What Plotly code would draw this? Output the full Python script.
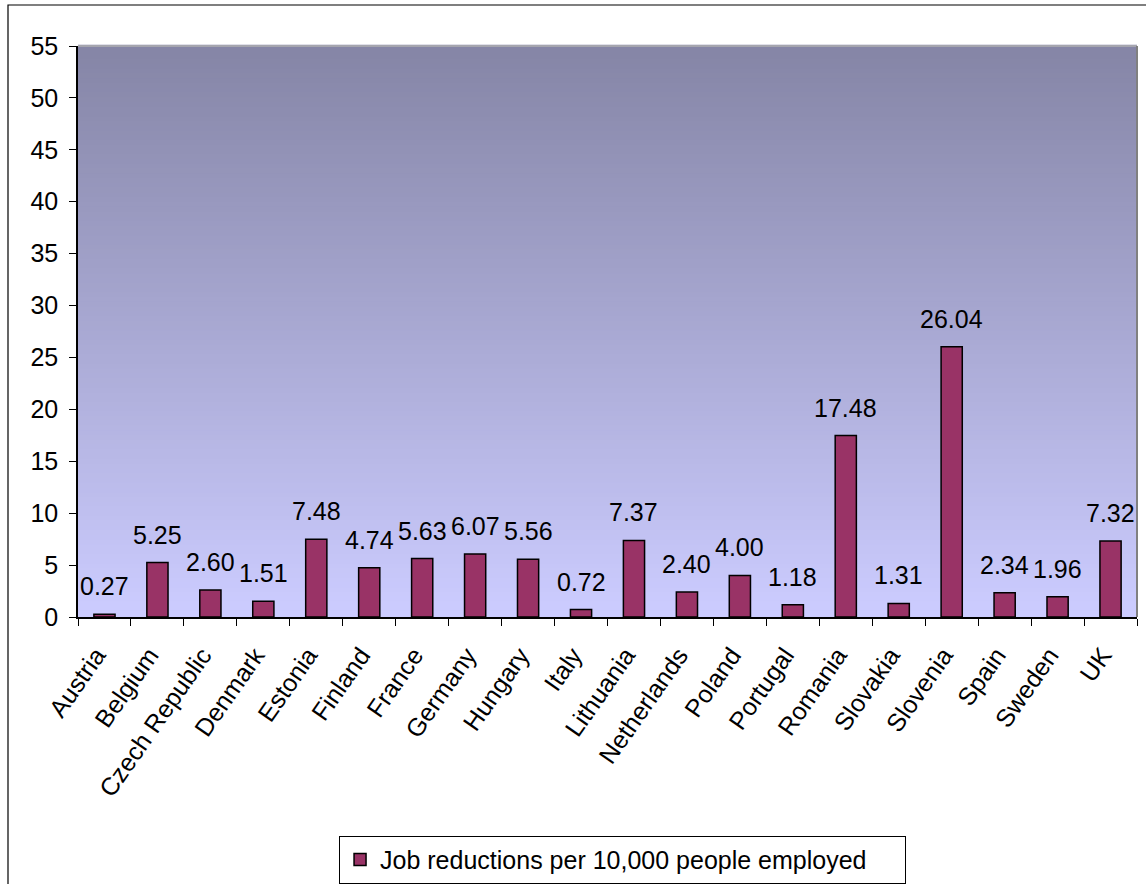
import plotly.graph_objects as go

countries = ["Austria", "Belgium", "Czech Republic", "Denmark", "Estonia", "Finland",
             "France", "Germany", "Hungary", "Italy", "Lithuania", "Netherlands",
             "Poland", "Portugal", "Romania", "Slovakia", "Slovenia", "Spain",
             "Sweden", "UK"]
values = [0.27, 5.25, 2.60, 1.51, 7.48, 4.74, 5.63, 6.07, 5.56, 0.72, 7.37, 2.40,
          4.00, 1.18, 17.48, 1.31, 26.04, 2.34, 1.96, 7.32]
series_name = "Job reductions per 10,000 people employed"
y_ticks = [0, 5, 10, 15, 20, 25, 30, 35, 40, 45, 50, 55]

FONT = "Liberation Sans, Arial, sans-serif"
FS = 25

fig = go.Figure()
fig.add_trace(go.Bar(
    x=countries, y=values, name=series_name,
    marker=dict(color="#993366", line=dict(color="#000000", width=1.5)),
    showlegend=True,
))

# gradient background in plot area
top = (133, 133, 166)
bot = (204, 204, 255)
n = 120
shapes = []
for i in range(n):
    t = i / (n - 1)
    c = tuple(int(round(top[k] + (bot[k] - top[k]) * t)) for k in range(3))
    y1 = 1 - i / n
    y0 = 1 - (i + 1) / n
    shapes.append(dict(type="rect", xref="x domain", yref="y domain",
                       x0=0, x1=1, y0=y0, y1=y1 + 0.002, layer="below",
                       line=dict(width=0), fillcolor="rgb(%d,%d,%d)" % c))
# plot area border accents
shapes.append(dict(type="line", xref="x domain", yref="y domain", x0=0, x1=1, y0=1, y1=1,
                   line=dict(color="#b0b0b0", width=1.5), layer="above"))
shapes.append(dict(type="line", xref="x domain", yref="y domain", x0=1, x1=1, y0=0, y1=1,
                   line=dict(color="#808080", width=2), layer="above"))
# outer chart border
shapes.append(dict(type="rect", xref="paper", yref="paper", x0=-0.0661, x1=1.02,
                   y0=-0.6, y1=1.0718, line=dict(color="#000000", width=1.2),
                   fillcolor="rgba(0,0,0,0)", layer="above"))

annotations = []
for c, v in zip(countries, values):
    annotations.append(dict(x=c, y=v, text="%.2f" % v, showarrow=False,
                            yanchor="bottom", yshift=12,
                            font=dict(family=FONT, size=FS, color="#000000")))

fig.update_layout(
    width=1146, height=884,
    margin=dict(l=78, r=9, t=46, b=267, autoexpand=False),
    paper_bgcolor="#ffffff",
    plot_bgcolor="#ccccff",
    font=dict(family=FONT, size=FS, color="#000000"),
    bargap=0.6,
    shapes=shapes,
    annotations=annotations,
    showlegend=True,
    legend=dict(x=0.2465, xanchor="left", y=-0.383, yanchor="top",
                orientation="h", entrywidth=520, entrywidthmode="pixels",
                bordercolor="#000000", borderwidth=1, bgcolor="#ffffff",
                font=dict(family=FONT, size=FS, color="#000000")),
    xaxis=dict(showline=True, linecolor="#000000", linewidth=1.5,
               ticks="outside", ticklen=7, tickcolor="#000000", tickson="boundaries",
               tickangle=-55, showgrid=False, tickfont=dict(size=FS),
               ticklabelstandoff=12, ticklabelshift=-8,
               range=[-0.5, len(countries) - 0.5]),
    yaxis=dict(range=[0, 55], tickvals=y_ticks, showline=True, linecolor="#000000",
               linewidth=1.5, ticks="outside", ticklen=7, tickcolor="#000000",
               ticklabelstandoff=6,
               showgrid=False, zeroline=False, tickfont=dict(size=FS)),
)

fig.write_html("out.html", config={"displayModeBar": False},
               post_script="document.body.style.margin='0';document.body.style.overflow='hidden';")
